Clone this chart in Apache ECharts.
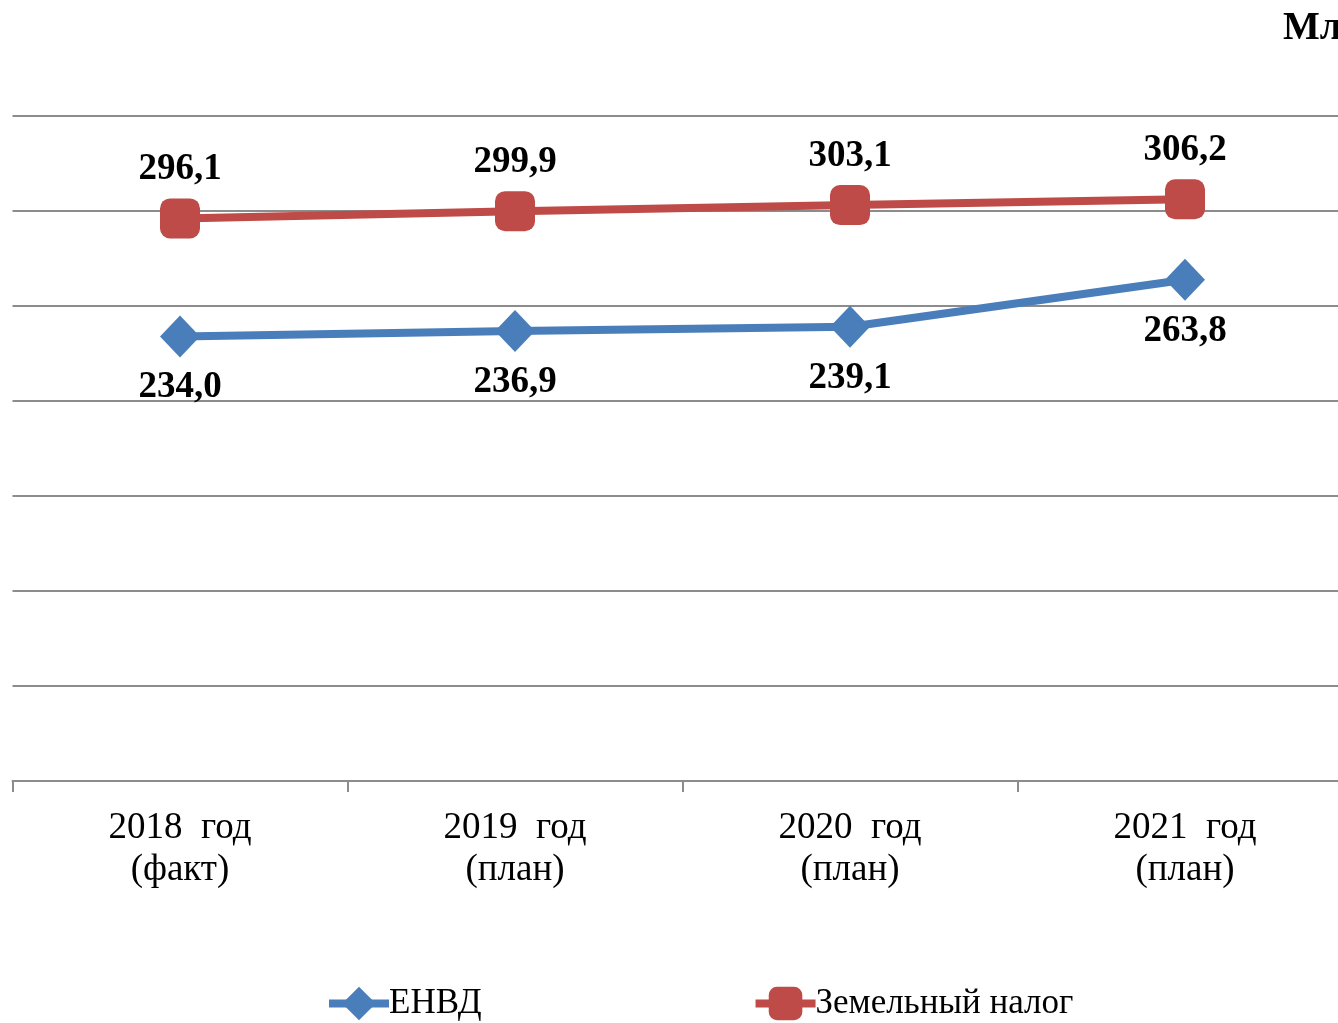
<!DOCTYPE html>
<html>
<head>
<meta charset="utf-8">
<script src="https://cdn.jsdelivr.net/npm/echarts@6/dist/echarts.min.js"></script>
<style>
html,body{margin:0;padding:0;background:#fff;}
#c{width:1338px;height:1023px;}
</style>
</head>
<body>
<div id="c"></div>
<script>
var categories = ['2018  год\n(факт)', '2019  год\n(план)', '2020  год\n(план)', '2021  год\n(план)'];
var envd = [234.0, 236.9, 239.1, 263.8];
var zemNalog = [296.1, 299.9, 303.1, 306.2];
var seriesNames = ['ЕНВД', 'Земельный налог'];
var unitText = 'Млн. рублей';

var fmt = function (p) { return p.value.toFixed(1).replace('.', ','); };
var serif = '"Liberation Serif", "Times New Roman", serif';

var chart = echarts.init(document.getElementById('c'));
chart.setOption({
  backgroundColor: '#ffffff',
  animation: false,
  textStyle: { fontFamily: serif },
  graphic: [{
    type: 'text', left: 1283, top: 9,
    style: { text: unitText, font: 'bold 39px ' + serif, fill: '#000' }
  }],
  legend: {
    left: 325, top: 986, padding: 0,
    itemWidth: 60, itemHeight: 42, itemGap: 270,
    lineStyle: { width: 8 },
    textStyle: { fontFamily: serif, fontSize: 35, color: '#000', padding: [0, 0, 0, -5] },
    data: seriesNames
  },
  grid: { left: 12.5, right: -14.5, top: 116, bottom: 242, containLabel: false, outerBoundsMode: 'none' },
  xAxis: {
    type: 'category', data: categories, boundaryGap: true,
    axisLine: { lineStyle: { color: '#8c8c8c', width: 2 } },
    axisTick: { show: true, length: 11, lineStyle: { color: '#8c8c8c', width: 2 } },
    axisLabel: { fontFamily: serif, fontSize: 37, lineHeight: 42, color: '#000', margin: 26 }
  },
  yAxis: {
    type: 'value', min: 0, max: 350, interval: 50,
    axisLine: { show: false }, axisTick: { show: false }, axisLabel: { show: false },
    splitLine: { lineStyle: { color: '#8c8c8c', width: 2 } }
  },
  series: [{
    name: seriesNames[0], type: 'line', data: envd,
    symbol: 'diamond', symbolSize: [40, 42],
    lineStyle: { color: '#4a7ebb', width: 8 },
    itemStyle: { color: '#4a7ebb' },
    label: { show: true, position: 'bottom', distance: 12, formatter: fmt,
      fontFamily: serif, fontSize: 37, fontWeight: 'bold', color: '#000' }
  }, {
    name: seriesNames[1], type: 'line', data: zemNalog,
    symbol: 'roundRect', symbolSize: 40,
    lineStyle: { color: '#be4b48', width: 8 },
    itemStyle: { color: '#be4b48' },
    label: { show: true, position: 'top', distance: 10, formatter: fmt,
      fontFamily: serif, fontSize: 37, fontWeight: 'bold', color: '#000' }
  }]
});
</script>
</body>
</html>
